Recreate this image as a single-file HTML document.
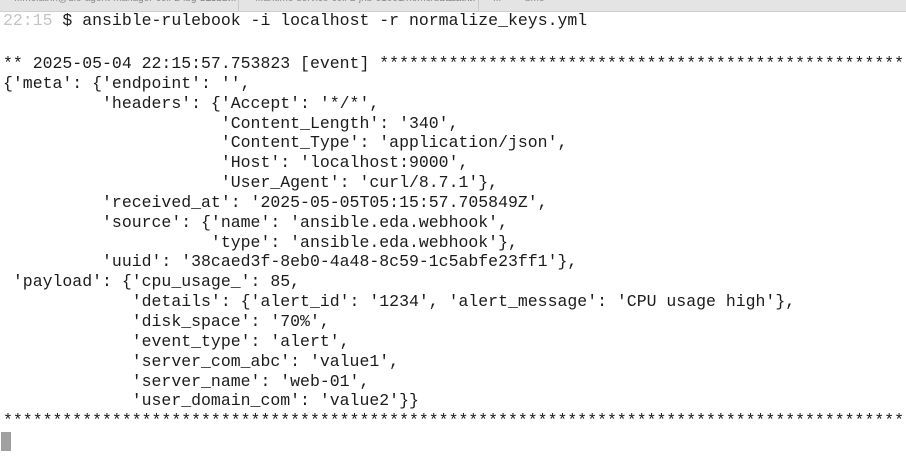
<!DOCTYPE html>
<html><head><meta charset="utf-8"><style>
html,body{margin:0;padding:0;width:906px;height:462px;overflow:hidden;background:#fff;}
.tab{position:absolute;top:0;left:0;width:906px;height:11px;background:#e4e4e4;border-bottom:1px solid #cfcfcf;overflow:hidden;}
.tab span{position:absolute;top:-7px;font:10px "Liberation Sans",sans-serif;color:#888;white-space:nowrap;}
.sep{position:absolute;top:0;width:1px;height:11px;background:#c8c8c8;}
pre{position:absolute;left:3px;margin:0;font:16.5px/19.85px "Liberation Mono",monospace;color:#1b1b1b;white-space:pre;width:903px;overflow:hidden;}
.g{color:#c4c4c4;}
.cur{position:absolute;left:1px;top:432px;width:10px;height:19px;background:#a0a0a0;}
</style></head><body>
<div class="tab"><span style="left:14px">...melathn@dio-agent-manager-cell-2-lbg-01002:</span><span style="left:200px">bash</span><span style="left:228px">...</span><div class="sep" style="left:238px"></div><span style="left:255px">...antime-service-cell-2-jnb-01001/home/bmelathn</span><span style="left:440px">bash</span><span style="left:467px">...</span><div class="sep" style="left:478px"></div><span style="left:493px">...</span><span style="left:525px">bme</span></div>
<pre style="top:11px"><span class="g">22:15</span> $ ansible-rulebook -i localhost -r normalize_keys.yml</pre>
<pre style="top:54px">** 2025-05-04 22:15:57.753823 [event] ************************************************************
{'meta': {'endpoint': '',
          'headers': {'Accept': '*/*',
                      'Content_Length': '340',
                      'Content_Type': 'application/json',
                      'Host': 'localhost:9000',
                      'User_Agent': 'curl/8.7.1'},
          'received_at': '2025-05-05T05:15:57.705849Z',
          'source': {'name': 'ansible.eda.webhook',
                     'type': 'ansible.eda.webhook'},
          'uuid': '38caed3f-8eb0-4a48-8c59-1c5abfe23ff1'},
 'payload': {'cpu_usage_': 85,
             'details': {'alert_id': '1234', 'alert_message': 'CPU usage high'},
             'disk_space': '70%',
             'event_type': 'alert',
             'server_com_abc': 'value1',
             'server_name': 'web-01',
             'user_domain_com': 'value2'}}
****************************************************************************************************</pre>
<div class="cur"></div>
</body></html>
